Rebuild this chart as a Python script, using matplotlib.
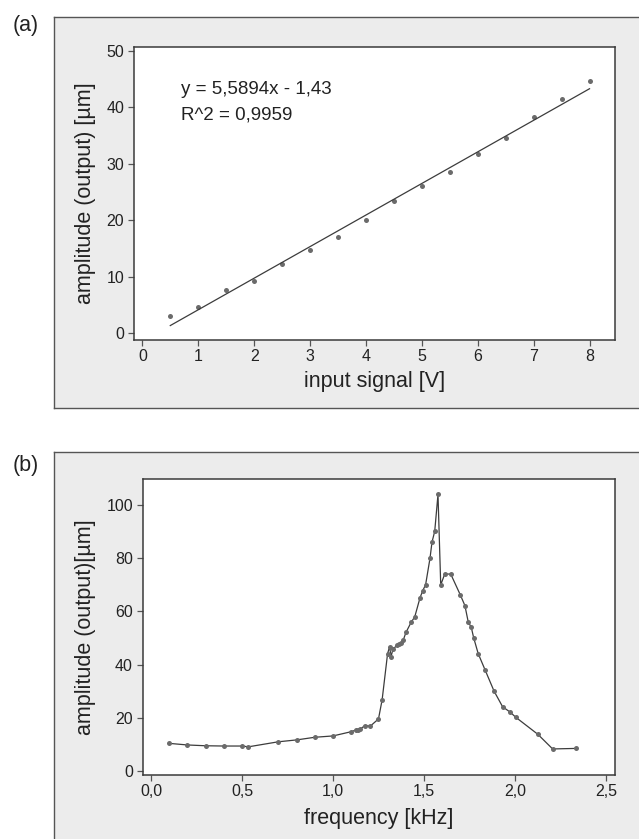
#
# Two-panel figure: (a) linear response of the actuator to the input signal,
# (b) frequency response around the resonance.
#

import matplotlib.pyplot as plt
from matplotlib.patches import Rectangle
from matplotlib.lines import Line2D

# --- Figure size in pixels (saved at 100 dpi) ---
W, H = 639, 839

# --- Panel (a): amplitude vs input signal ---
SIGNAL_V = [0.5, 1.0, 1.5, 2.0, 2.5, 3.0, 3.5, 4.0,
            4.5, 5.0, 5.5, 6.0, 6.5, 7.0, 7.5, 8.0]
AMPLITUDE_A = [3.1, 4.7, 7.6, 9.3, 12.3, 14.7, 17.1, 20.0,
               23.4, 26.0, 28.5, 31.7, 34.5, 38.3, 41.5, 44.7]
FIT_SLOPE = 5.5894
FIT_INTERCEPT = -1.43
FIT_TEXT = ["y = 5,5894x - 1,43", "R^2 = 0,9959"]
TICKS_A_X = [0, 1, 2, 3, 4, 5, 6, 7, 8]
TICKS_A_Y = [0, 10, 20, 30, 40, 50]

# --- Panel (b): amplitude vs frequency ---
FREQ_KHZ = [0.10, 0.20, 0.30, 0.40, 0.50, 0.535, 0.70, 0.80, 0.90, 1.00,
            1.10, 1.125, 1.14, 1.15, 1.175, 1.205, 1.25, 1.27, 1.30, 1.311,
            1.319, 1.33, 1.352, 1.363, 1.374, 1.386, 1.401, 1.43, 1.449, 1.478,
            1.493, 1.509, 1.533, 1.544, 1.559, 1.577, 1.592, 1.614, 1.647, 1.70,
            1.725, 1.743, 1.76, 1.773, 1.798, 1.835, 1.885, 1.932, 1.973, 2.005,
            2.126, 2.207, 2.337]
AMPLITUDE_B = [10.3, 9.7, 9.4, 9.3, 9.3, 9.0, 10.9, 11.6, 12.6, 13.1,
               14.7, 15.3, 15.3, 15.7, 17.0, 16.8, 19.5, 26.7, 44.1, 46.7,
               43.0, 45.9, 47.2, 47.7, 48.2, 49.2, 52.1, 56.0, 57.9, 65.1,
               67.8, 70.1, 80.0, 86.1, 90.2, 104.1, 70.0, 74.1, 74.1, 66.2,
               62.2, 56.1, 54.0, 50.1, 44.1, 38.1, 30.0, 24.1, 22.1, 20.1,
               13.7, 8.2, 8.4]
TICKS_B_X = [0.0, 0.5, 1.0, 1.5, 2.0, 2.5]
TICK_LABELS_B_X = ["0,0", "0,5", "1,0", "1,5", "2,0", "2,5"]
TICKS_B_Y = [0, 20, 40, 60, 80, 100]

# --- Colours ---
PANEL_GREY = "#ececec"
FRAME = "#3a3a3a"
DOT = "#6b6b6b"
LINE = "#3c3c3c"
TEXT = "#222222"

plt.rcParams['font.family'] = ['Liberation Sans', 'DejaVu Sans']


def fx(x):
    """pixel x -> figure fraction"""
    return x / W


def fy(y):
    """pixel y (from top) -> figure fraction"""
    return 1 - y / H


def add_panel(fig, left, top, bottom, border_bottom):
    # grey background box that runs off the right edge of the page
    rect = Rectangle((fx(left), fy(bottom)), 1.2, fy(top) - fy(bottom),
                     transform=fig.transFigure, facecolor=PANEL_GREY,
                     edgecolor='none', zorder=-2)
    fig.add_artist(rect)
    lines = [([left, W + 5], [top, top]), ([left, left], [top, bottom])]
    if border_bottom:
        lines.append(([left, W + 5], [bottom, bottom]))
    for xs, ys in lines:
        fig.add_artist(Line2D([fx(v) for v in xs], [fy(v) for v in ys],
                              transform=fig.transFigure, color="#555555",
                              lw=1.0, zorder=-1))


def style_axes(ax):
    for side in ax.spines.values():
        side.set_color(FRAME)
        side.set_linewidth(1.1)
    ax.tick_params(direction='out', length=4, width=0.9, color="#555555",
                   labelsize=11.5, labelcolor=TEXT)
    ax.tick_params(axis='x', pad=2.5)
    ax.tick_params(axis='y', pad=3)


def plot_figure():
    fig = plt.figure(figsize=(W / 100, H / 100), dpi=100)

    add_panel(fig, 54.3, 17.3, 408.3, True)
    add_panel(fig, 54.3, 452.3, H + 5, False)

    # --- Panel (a) ---
    ax1 = fig.add_axes([fx(134), fy(340), (614.7 - 134) / W, (340 - 47) / H])
    ax1.plot(SIGNAL_V, AMPLITUDE_A, 'o', ms=3.6, color=DOT, mec='none')
    fit_x = [SIGNAL_V[0], SIGNAL_V[-1]]
    fit_y = [FIT_SLOPE * v + FIT_INTERCEPT for v in fit_x]
    ax1.plot(fit_x, fit_y, color=LINE, lw=0.9)
    ax1.text(0.69, 42.3, FIT_TEXT[0], fontsize=13.5, color=TEXT, va='baseline')
    ax1.text(0.69, 37.9, FIT_TEXT[1], fontsize=13.5, color=TEXT, va='baseline')
    ax1.set_xlim(-0.149, 8.45)
    ax1.set_ylim(-1.19, 50.67)
    ax1.set_xticks(TICKS_A_X)
    ax1.set_yticks(TICKS_A_Y)
    style_axes(ax1)
    ax1.set_xlabel('input signal [V]', fontsize=15.5, color=TEXT, va='baseline')
    ax1.xaxis.set_label_coords(0.5, (340 - 386.5) / 293)
    ax1.set_ylabel('amplitude (output) [µm]', fontsize=15.5, color=TEXT,
                   va='baseline')
    ax1.yaxis.set_label_coords((90.5 - 134) / 480.7, 0.5)

    # --- Panel (b) ---
    ax2 = fig.add_axes([fx(142.7), fy(775.3), (614.7 - 142.7) / W,
                        (775.3 - 479.3) / H])
    ax2.plot(FREQ_KHZ, AMPLITUDE_B, '-o', ms=3.6, lw=0.9, color=LINE,
             mfc=DOT, mec='none')
    ax2.set_xlim(-0.0456, 2.548)
    ax2.set_ylim(-1.73, 109.8)
    ax2.set_xticks(TICKS_B_X)
    ax2.set_xticklabels(TICK_LABELS_B_X)
    ax2.set_yticks(TICKS_B_Y)
    style_axes(ax2)
    ax2.set_xlabel('frequency [kHz]', fontsize=15.5, color=TEXT, va='baseline')
    ax2.xaxis.set_label_coords(0.5, (775.3 - 824) / 296)
    ax2.set_ylabel('amplitude (output)[µm]', fontsize=15.5, color=TEXT,
                   va='baseline')
    ax2.yaxis.set_label_coords((90.5 - 142.7) / 472, 0.5)

    # --- panel letters ---
    fig.text(fx(25.5), fy(25.7), '(a)', fontsize=15.5, color=TEXT,
             ha='center', va='center')
    fig.text(fx(25.5), fy(465), '(b)', fontsize=15.5, color=TEXT,
             ha='center', va='center')

    fig.savefig('out.png', dpi=100)


if __name__ == "__main__":
    plot_figure()
